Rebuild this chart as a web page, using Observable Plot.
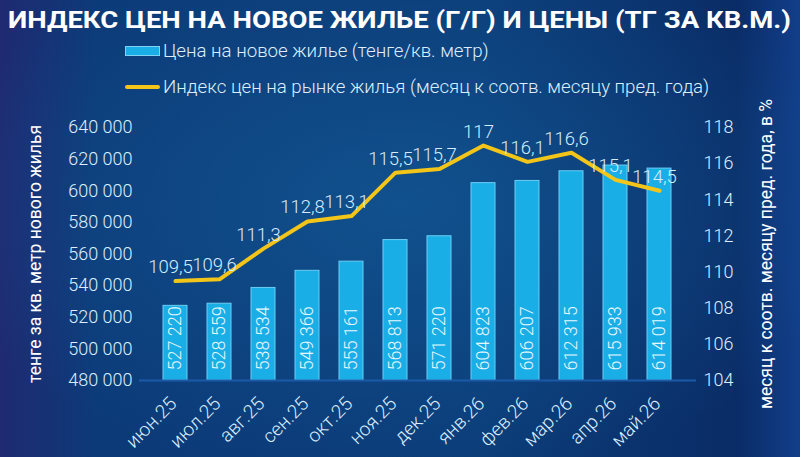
<!DOCTYPE html>
<html><head><meta charset="utf-8">
<script src="https://cdn.jsdelivr.net/npm/d3@7"></script>
<script src="https://cdn.jsdelivr.net/npm/@observablehq/plot@0.6"></script>
<style>
html,body{margin:0;padding:0;background:#0b2f66;}
#wrap{position:relative;width:800px;height:457px;overflow:hidden;
 background:
  radial-gradient(ellipse 60% 60% at 50% 45%, rgba(20,95,155,0.6), rgba(20,90,150,0) 100%),
  linear-gradient(90deg,#1f2a72 0%,#0c3a78 12%,#0b3c78 60%,#0a2c66 92%,#123e8a 100%);}
#title{position:absolute;left:0;top:0;}
#legend{position:absolute;left:0;top:0;width:800px;height:110px;font-family:Roboto,sans-serif;font-weight:300;color:#dcefff;font-size:18.7px;}
.li{position:absolute;left:125px;display:flex;align-items:center;}
.sw{width:33px;height:8px;background:#1aaee6;border:1px solid #7fd3f5;margin-right:3px;}
.ln{width:35px;height:4px;background:#f2c518;border-radius:2px;margin-right:3px;}
#chart{position:absolute;left:0;top:0;}
</style></head>
<body>
<div id="wrap">
 <div id="chart"></div>
 <svg id="title" width="800" height="40"><text x="8" y="28" textLength="783" lengthAdjust="spacingAndGlyphs" fill="#ffffff" font-family="Roboto, sans-serif" font-weight="700" font-size="23.5">ИНДЕКС ЦЕН НА НОВОЕ ЖИЛЬЕ (Г/Г) И ЦЕНЫ (ТГ ЗА КВ.М.)</text></svg>
 <div id="legend">
  <div class="li" style="top:40px"><div class="sw"></div><span>Цена на новое жилье (тенге/кв. метр)</span></div>
  <div class="li" style="top:76px"><div class="ln"></div><span>Индекс цен на рынке жилья (месяц к соотв. месяцу пред. года)</span></div>
 </div>
</div>
<script>
const months = ["июн.25","июл.25","авг.25","сен.25","окт.25","ноя.25","дек.25","янв.26","фев.26","мар.26","апр.26","май.26"];
const prices = [527220,528559,538534,549366,555161,568813,571220,604823,606207,612315,615933,614019];
const index = [109.5,109.6,111.3,112.8,113.1,115.5,115.7,117,116.1,116.6,115.1,114.5];
const leftTicks = [480000,500000,520000,540000,560000,580000,600000,620000,640000];
const rightTicks = [104,106,108,110,112,114,116,118];
const leftTitle = "тенге за кв. метр нового жилья";
const rightTitle = "месяц к соотв. месяцу пред. года, в %";

const yMin = 480000, yMax = 640000, rMin = 104, rMax = 118;
const toLeft = v => yMin + (v - rMin) * (yMax - yMin) / (rMax - rMin);
const toRight = d => Math.round((d - yMin) * (rMax - rMin) / (yMax - yMin) + rMin);
const fmtSpace = v => d3.format(",")(v).replace(/,/g, " ");
const fmtComma = v => String(v).replace(".", ",");

const rows = months.map((m, i) => ({month: m, price: prices[i], idx: index[i], idxY: toLeft(index[i])}));

const chart = Plot.plot({
  width: 800, height: 457,
  marginTop: 127, marginBottom: 77, marginLeft: 139, marginRight: 104,
  style: {background: "transparent", fontFamily: "Roboto, sans-serif", color: "#dcefff"},
  x: {domain: months, padding: 0.45, label: null},
  y: {domain: [yMin, yMax], label: null},
  marks: [
    Plot.barY(rows, {x: "month", y1: yMin, y2: "price", fill: "#1aaee6", stroke: "#6ccdf3", strokeWidth: 1}),
    Plot.ruleY([yMin], {stroke: "#1b5aa8", strokeWidth: 2}),
    Plot.text(rows, {x: "month", y: yMin, text: d => fmtSpace(d.price), rotate: -90, textAnchor: "start", lineAnchor: "middle", dy: -10, fill: "#e6f6ff", fontSize: 18, fontWeight: 300}),
    Plot.line(rows, {x: "month", y: "idxY", stroke: "#f2c518", strokeWidth: 4, strokeLinejoin: "round", strokeLinecap: "round"}),
    Plot.text(rows, {x: "month", y: "idxY", text: d => fmtComma(d.idx), dy: -8, dx: -5, lineAnchor: "bottom", fill: "#d4ecff", fontSize: 18.5, fontWeight: 300}),
    Plot.axisY(leftTicks, {anchor: "left", tickSize: 0, tickPadding: 7, tickFormat: fmtSpace, fontSize: 18, fontWeight: 300, fill: "#dcefff", label: null}),
    Plot.axisY(rightTicks.map(toLeft), {anchor: "right", tickSize: 0, tickPadding: 7, tickFormat: d => String(toRight(d)), fontSize: 18, fontWeight: 300, fill: "#dcefff", label: null}),
    Plot.axisX(months, {tickSize: 0, tickPadding: 8, tickRotate: -45, dx: -2, dy: 12, fontSize: 19, fontWeight: 300, fill: "#dcefff", label: null}),
    Plot.text([leftTitle], {frameAnchor: "left", dx: -104, rotate: -90, textAnchor: "middle", lineAnchor: "middle", fill: "#ffffff", fontSize: 17.5, fontWeight: 400}),
    Plot.text([rightTitle], {frameAnchor: "right", dx: 70, rotate: -90, textAnchor: "middle", lineAnchor: "middle", fill: "#ffffff", fontSize: 17.5, fontWeight: 400})
  ]
});
document.getElementById("chart").appendChild(chart);
</script>
</body></html>
